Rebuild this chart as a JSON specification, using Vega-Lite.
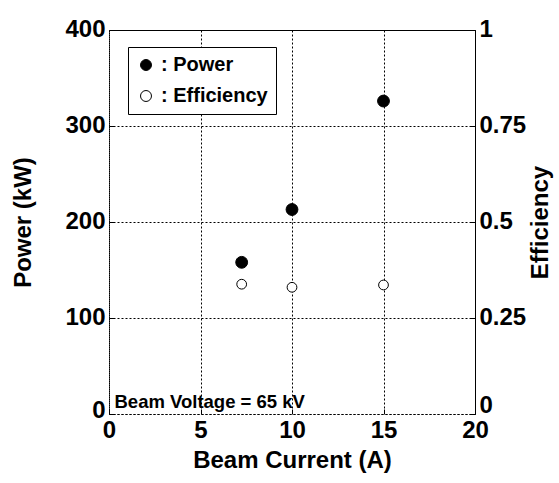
{
  "$schema": "https://vega.github.io/schema/vega-lite/v6.json",
  "width": 366,
  "height": 384,
  "autosize": "none",
  "padding": {"left": 109, "top": 30, "right": 84, "bottom": 69},
  "background": "white",
  "config": {
    "font": "Liberation Sans",
    "view": {"stroke": null},
    "axis": {
      "labelFont": "Liberation Sans",
      "titleFont": "Liberation Sans",
      "labelFontSize": 24,
      "titleFontSize": 24,
      "labelFontWeight": "bold",
      "titleFontWeight": "bold",
      "labelColor": "black",
      "titleColor": "black",
      "grid": true,
      "gridColor": "black",
      "gridDash": [2, 2],
      "gridOpacity": 1,
      "gridWidth": 1,
      "domainColor": "black",
      "tickColor": "black"
    }
  },
  "data": {
    "values": [
      {"current": 7.25, "value": 158, "series": "Power"},
      {"current": 10, "value": 213, "series": "Power"},
      {"current": 15, "value": 326, "series": "Power"},
      {"current": 7.25, "value": 0.338, "series": "Efficiency"},
      {"current": 10, "value": 0.33, "series": "Efficiency"},
      {"current": 15, "value": 0.336, "series": "Efficiency"}
    ]
  },
  "layer": [
    {
      "layer": [
        {
          "transform": [{"filter": "datum.series === 'Power'"}],
          "mark": {"type": "point", "shape": "circle", "filled": true, "stroke": "black", "strokeWidth": 1, "size": 140, "opacity": 1},
          "encoding": {
            "x": {"field": "current", "type": "quantitative", "scale": {"domain": [0, 20]},
              "axis": {"title": "Beam Current (A)", "values": [0, 5, 10, 15, 20], "domainDash": [2, 2], "tickSize": -5, "labelPadding": 9, "titlePadding": 6, "labelFlush": false}},
            "y": {"field": "value", "type": "quantitative", "scale": {"domain": [0, 400]},
              "axis": {"title": "Power (kW)", "values": [0, 100, 200, 300, 400], "domainDash": [2, 2], "tickSize": -5, "labelPadding": 9, "titlePadding": 29, "labelFlush": false,
                "labelOffset": {"condition": {"test": "datum.value === 0", "value": -4}, "value": -1}}},
            "fill": {"field": "series", "type": "nominal",
              "scale": {"domain": ["Power", "Efficiency"], "range": ["black", "white"]},
              "legend": {"title": null, "orient": "none", "legendX": 19, "legendY": 17,
                "strokeColor": "black", "padding": 8, "labelFontSize": 20, "labelFontWeight": "bold", "labelFont": "Liberation Sans", "labelColor": "black",
                "labelExpr": "': ' + datum.label", "symbolType": "circle", "symbolSize": 120,
                "symbolStrokeColor": "black", "symbolStrokeWidth": 1, "rowPadding": 11, "labelOffset": 5, "fillColor": "white"}}
          }
        },
        {
          "data": {"values": [{"x": 0.3, "y": 0, "note": "Beam Voltage = 65 kV"}]},
          "mark": {"type": "text", "align": "left", "baseline": "alphabetic", "dy": -6, "fontSize": 18.5, "fontWeight": "bold", "font": "Liberation Sans", "color": "black"},
          "encoding": {
            "x": {"field": "x", "type": "quantitative"},
            "y": {"field": "y", "type": "quantitative"},
            "text": {"field": "note"}
          }
        }
      ]
    },
    {
      "transform": [{"filter": "datum.series === 'Efficiency'"}],
      "mark": {"type": "point", "shape": "circle", "filled": true, "stroke": "black", "strokeWidth": 1, "size": 95, "opacity": 1},
      "encoding": {
        "x": {"field": "current", "type": "quantitative",
          "axis": {"orient": "top", "title": null, "labels": false, "ticks": false, "grid": false, "domainDash": []}},
        "y": {"field": "value", "type": "quantitative", "scale": {"domain": [0, 1]},
          "axis": {"orient": "right", "title": "Efficiency", "titleAngle": -90, "labelExpr": "'' + datum.value", "values": [0, 0.25, 0.5, 0.75, 1], "grid": false, "tickSize": -5, "labelPadding": 9, "titlePadding": 27, "labelFlush": false,
            "labelOffset": {"condition": {"test": "datum.value === 0", "value": -9}, "value": -1}}},
        "fill": {"field": "series", "type": "nominal"}
      }
    }
  ],
  "resolve": {"scale": {"y": "independent"}, "axis": {"y": "independent", "x": "independent"}}
}
